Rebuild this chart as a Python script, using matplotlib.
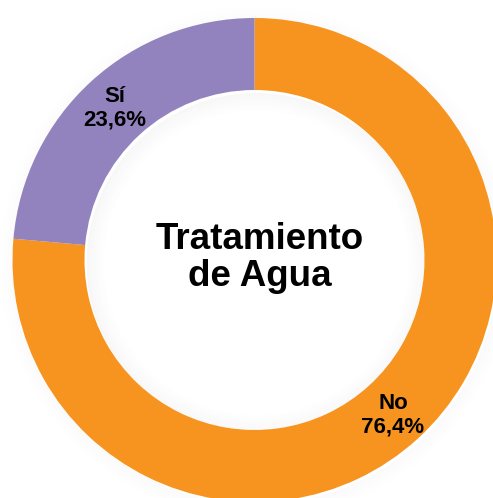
import matplotlib.pyplot as plt
from matplotlib.patches import Wedge

# data
labels = ["No", "Sí"]
values = [76.4, 23.6]
pct_text = ["76,4%", "23,6%"]
colors = ["#F7941F", "#9283BE"]
title = "Tratamiento\nde Agua"

plt.rcParams["font.family"] = ["Liberation Sans", "DejaVu Sans"]

fig = plt.figure(figsize=(4.93, 4.98), dpi=100)
ax = fig.add_axes([0, 0, 1, 1])
ax.set_xlim(0, 493)
ax.set_ylim(0, 498)
ax.set_aspect("equal")
ax.axis("off")

cx, cy = 254.5, 238
r_out, r_in = 242, 170
width = r_out - r_in

# soft shadow outside the ring and inside the hole
for i in range(10):
    a = 0.018
    ax.add_patch(Wedge((cx + 2, cy - 3), r_out + 1 + i * 1.6, 0, 360, width=1.6,
                       color="black", alpha=a * (10 - i) / 10, lw=0))
    ax.add_patch(Wedge((cx + 2, cy - 3), r_in - i * 1.8, 0, 360, width=1.8,
                       color="black", alpha=a * (10 - i) / 6, lw=0))

wedges, _ = ax.pie(values, colors=colors, startangle=90, counterclock=False,
                   radius=r_out, center=(cx, cy),
                   wedgeprops=dict(width=width, linewidth=0))
ax.set_xlim(0, 493)
ax.set_ylim(0, 498)

# labels inside the ring
ax.text(393, 498 - 415, labels[0] + "\n" + pct_text[0], ha="center", va="center",
        fontsize=16, fontweight="bold", linespacing=1.15)
ax.text(115, 498 - 108, labels[1] + "\n" + pct_text[1], ha="center", va="center",
        fontsize=16, fontweight="bold", linespacing=1.15)

ax.text(260, 498 - 258, title, ha="center", va="center",
        fontsize=26.5, fontweight="bold", linespacing=1.05)

fig.savefig("out.png", dpi=100, facecolor="white")
